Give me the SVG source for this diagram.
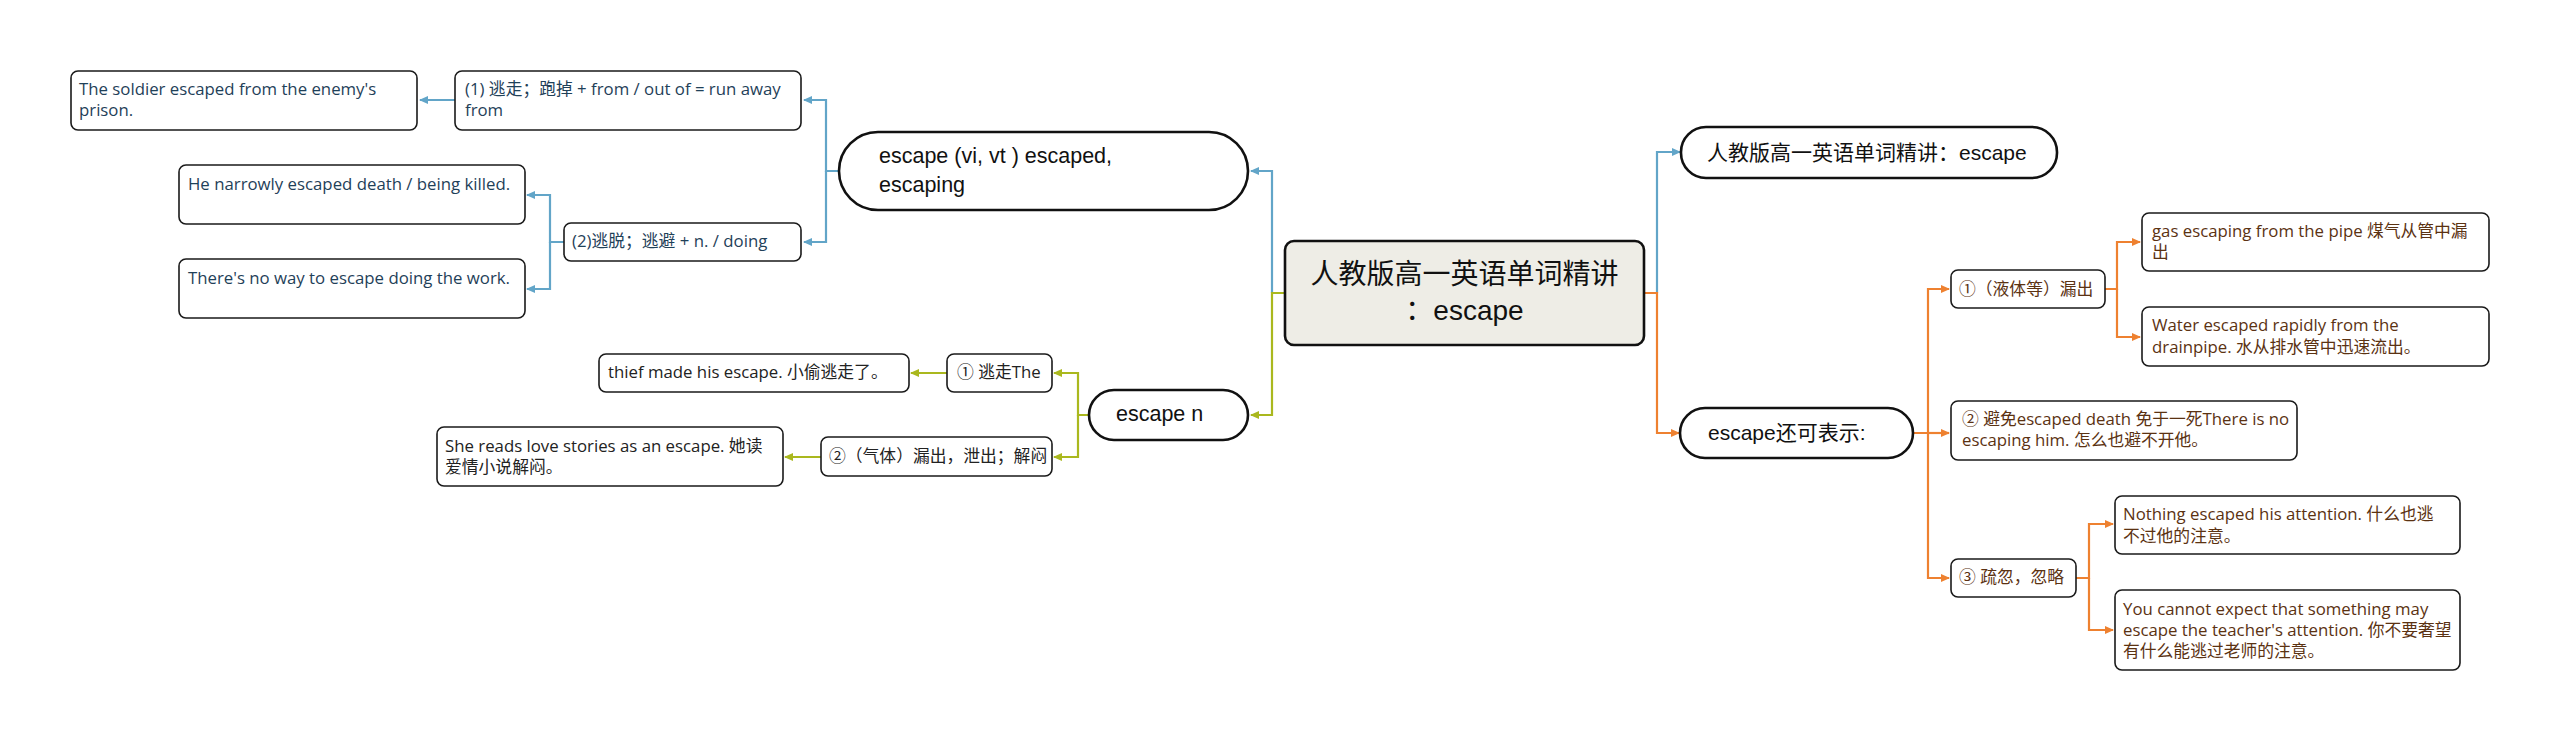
<svg xmlns="http://www.w3.org/2000/svg" width="2560" height="741" viewBox="0 0 2560 741">
<defs>
<style>
text{font-family:"Liberation Sans","Noto Sans CJK SC",sans-serif;}
.box{fill:#fff;stroke:#1a1a1a;stroke-width:1.6;}
.main{fill:#fff;stroke:#111;stroke-width:2.6;}
.center{fill:#eeede6;stroke:#111;stroke-width:2.6;}
.t16{font-size:16.8px;font-family:"Open Sans","Noto Sans CJK SC",sans-serif;}
.tb{fill:#1f4159;}
.tg{fill:#222;}
.to{fill:#5b3212;}
.tm{fill:#111;}
.cb{fill:none;stroke:#62a5c8;stroke-width:2.2;}
.cg{fill:none;stroke:#aab81e;stroke-width:2.2;}
.co{fill:none;stroke:#ee8130;stroke-width:2.2;}
</style>
<marker id="ab" markerWidth="10" markerHeight="10" refX="8" refY="5" orient="auto" markerUnits="userSpaceOnUse"><path d="M0,1 L9,5 L0,9 Z" fill="#62a5c8"/></marker>
<marker id="ag" markerWidth="10" markerHeight="10" refX="8" refY="5" orient="auto" markerUnits="userSpaceOnUse"><path d="M0,1 L9,5 L0,9 Z" fill="#aab81e"/></marker>
<marker id="ao" markerWidth="10" markerHeight="10" refX="8" refY="5" orient="auto" markerUnits="userSpaceOnUse"><path d="M0,1 L9,5 L0,9 Z" fill="#ee8130"/></marker>
</defs>
<rect width="2560" height="741" fill="#fff"/>
<g id="connectors">
<path class="cb" d="M1272,293 V171 H1251" marker-end="url(#ab)"/>
<path class="cg" d="M1285,293 H1272 V415 H1251" marker-end="url(#ag)"/>
<path class="cb" d="M839,171 H826 V100 H804" marker-end="url(#ab)"/>
<path class="cb" d="M826,171 V242 H804" marker-end="url(#ab)"/>
<path class="cb" d="M455,100 H420" marker-end="url(#ab)"/>
<path class="cb" d="M564,242 H550 V195 H527" marker-end="url(#ab)"/>
<path class="cb" d="M550,242 V289 H527" marker-end="url(#ab)"/>
<path class="cg" d="M1089,415 H1078 V373 H1054" marker-end="url(#ag)"/>
<path class="cg" d="M1078,415 V457 H1054" marker-end="url(#ag)"/>
<path class="cg" d="M947,373 H911" marker-end="url(#ag)"/>
<path class="cg" d="M821,457 H785" marker-end="url(#ag)"/>
<path class="cb" d="M1657,293 V152 H1680" marker-end="url(#ab)"/>
<path class="co" d="M1644,293 H1657 V433 H1679" marker-end="url(#ao)"/>
<path class="co" d="M1913,433 H1928 V289 H1949" marker-end="url(#ao)"/>
<path class="co" d="M1928,433 H1949" marker-end="url(#ao)"/>
<path class="co" d="M1928,433 V578 H1949" marker-end="url(#ao)"/>
<path class="co" d="M2105,289 H2117 V242 H2140" marker-end="url(#ao)"/>
<path class="co" d="M2117,289 V337 H2140" marker-end="url(#ao)"/>
<path class="co" d="M2076,578 H2089 V524 H2113" marker-end="url(#ao)"/>
<path class="co" d="M2089,578 V630 H2113" marker-end="url(#ao)"/>
</g>
<g id="center">
<rect class="center" x="1285" y="241" width="359" height="104" rx="9"/>
<text class="tm" x="1464.5" y="284" font-size="28" text-anchor="middle">人教版高一英语单词精讲</text>
<text class="tm" x="1464.5" y="320" font-size="28" text-anchor="middle">：escape</text>
</g>
<g id="n-vi">
<rect class="main" x="839" y="132" width="409" height="78" rx="39"/>
<text class="tm" x="879" y="163" font-size="21.5">escape (vi, vt ) escaped,</text>
<text class="tm" x="879" y="192" font-size="21.5">escaping</text>
</g>
<g id="n-1">
<rect class="box" x="455" y="71" width="346" height="59" rx="7"/>
<text class="tb t16" x="465" y="95">(1) 逃走；跑掉 + from / out of = run away</text>
<text class="tb t16" x="465" y="116"> from</text>
</g>
<g id="n-soldier">
<rect class="box" x="71" y="71" width="346" height="59" rx="7"/>
<text class="tb t16" x="79" y="95">The soldier escaped from the enemy's</text>
<text class="tb t16" x="79" y="116">prison.</text>
</g>
<g id="n-2">
<rect class="box" x="564" y="223" width="237" height="38" rx="7"/>
<text class="tb t16" x="572" y="247">(2)逃脱；逃避 + n. / doing</text>
</g>
<g id="n-narrow">
<rect class="box" x="179" y="165" width="346" height="59" rx="7"/>
<text class="tb t16" x="188" y="190">He narrowly escaped death / being killed.</text>
</g>
<g id="n-noway">
<rect class="box" x="179" y="259" width="346" height="59" rx="7"/>
<text class="tb t16" x="188" y="284">There's no way to escape doing the work.</text>
</g>
<g id="n-n">
<rect class="main" x="1089" y="390" width="159" height="50" rx="25"/>
<text class="tm" x="1116" y="421" font-size="21.5">escape n</text>
</g>
<g id="n-g1">
<rect class="box" x="947" y="354" width="105" height="38" rx="7"/>
<text class="tg t16" x="957" y="378">① 逃走The</text>
</g>
<g id="n-thief">
<rect class="box" x="599" y="354" width="310" height="38" rx="7"/>
<text class="tg t16" x="608" y="378">thief made his escape. 小偷逃走了。</text>
</g>
<g id="n-g2">
<rect class="box" x="821" y="437" width="231" height="39" rx="7"/>
<text class="tg t16" x="829" y="462">②（气体）漏出，泄出；解闷</text>
</g>
<g id="n-she">
<rect class="box" x="437" y="427" width="346" height="59" rx="7"/>
<text class="tg t16" x="445" y="452">She reads love stories as an escape. 她读</text>
<text class="tg t16" x="445" y="473">爱情小说解闷。</text>
</g>
<g id="n-title2">
<rect class="main" x="1681" y="127" width="376" height="51" rx="25"/>
<text class="tm" x="1707" y="160" font-size="21">人教版高一英语单词精讲：escape</text>
</g>
<g id="n-also">
<rect class="main" x="1680" y="408" width="233" height="50" rx="25"/>
<text class="tm" x="1708" y="440" font-size="21">escape还可表示:</text>
</g>
<g id="n-o1">
<rect class="box" x="1951" y="270" width="154" height="38" rx="7"/>
<text class="to t16" x="1959" y="295">①（液体等）漏出</text>
</g>
<g id="n-gas">
<rect class="box" x="2142" y="213" width="347" height="58" rx="7"/>
<text class="to t16" x="2152" y="237">gas escaping from the pipe 煤气从管中漏</text>
<text class="to t16" x="2152" y="258">出</text>
</g>
<g id="n-water">
<rect class="box" x="2142" y="307" width="347" height="59" rx="7"/>
<text class="to t16" x="2152" y="331">Water escaped rapidly from the</text>
<text class="to t16" x="2152" y="353">drainpipe. 水从排水管中迅速流出。</text>
</g>
<g id="n-o2">
<rect class="box" x="1951" y="401" width="346" height="59" rx="7"/>
<text class="to t16" x="1962" y="425">② 避免escaped death 免于一死There is no</text>
<text class="to t16" x="1962" y="446"> escaping him. 怎么也避不开他。</text>
</g>
<g id="n-o3">
<rect class="box" x="1951" y="559" width="125" height="38" rx="7"/>
<text class="to t16" x="1959" y="583">③ 疏忽，忽略</text>
</g>
<g id="n-nothing">
<rect class="box" x="2115" y="496" width="345" height="58" rx="7"/>
<text class="to t16" x="2123" y="520">Nothing escaped his attention. 什么也逃</text>
<text class="to t16" x="2123" y="542">不过他的注意。</text>
</g>
<g id="n-you">
<rect class="box" x="2115" y="590" width="345" height="80" rx="7"/>
<text class="to t16" x="2123" y="615">You cannot expect that something may</text>
<text class="to t16" x="2123" y="636">escape the teacher's attention. 你不要奢望</text>
<text class="to t16" x="2123" y="657">有什么能逃过老师的注意。</text>
</g>
</svg>
